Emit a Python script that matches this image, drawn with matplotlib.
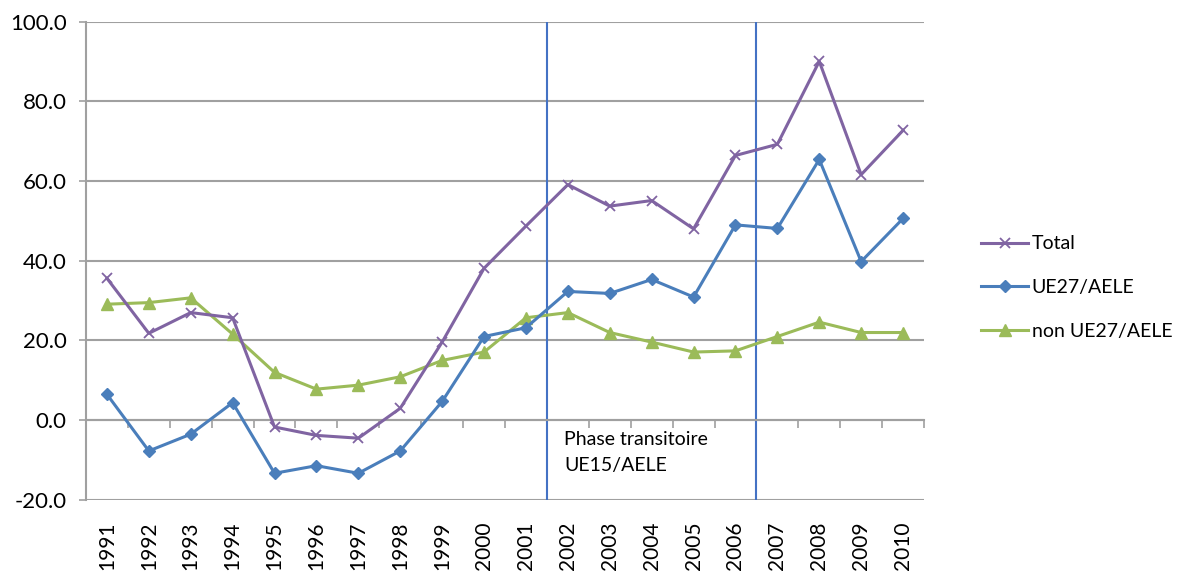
#!/usr/bin/env python3
# -*- coding: utf-8 -*-

"""
Trade balance by partner group, 1991-2010
"""

import matplotlib.pyplot as plt

plt.rcParams['font.family'] = ['Lato', 'DejaVu Sans']

years = [str(y) for y in range(1991, 2011)]

total = [35.6, 21.8, 27.0, 25.7, -1.7, -3.8, -4.5, 3.0, 19.6, 38.1,
         48.7, 59.1, 53.7, 55.1, 48.0, 66.4, 69.2, 90.0, 61.6, 72.7]
ue27 = [6.5, -7.7, -3.5, 4.4, -13.3, -11.4, -13.3, -7.7, 4.7, 21.0,
        23.2, 32.3, 31.8, 35.3, 30.9, 49.0, 48.1, 65.4, 39.8, 50.6]
non_ue27 = [29.1, 29.5, 30.7, 21.6, 12.0, 7.8, 8.8, 10.9, 15.0, 17.1,
            25.7, 27.0, 22.0, 19.6, 17.1, 17.4, 21.0, 24.6, 22.0, 22.0]

series_names = ['Total', 'UE27/AELE', 'non UE27/AELE']

# transition phase lies between these years
phase_start = '2001'
phase_end = '2006'
phase_label = 'Phase transitoire\nUE15/AELE'

y_ticks = [-20, 0, 20, 40, 60, 80, 100]

PURPLE = '#8064A2'
BLUE = '#4A7EBB'
GREEN = '#9BBB59'
GRID = '#a0a0a0'


def main():
    fig = plt.figure(figsize=(11.81, 5.72), dpi=100)
    ax = fig.add_axes([0.0728, 0.1259, 0.7096, 0.8365])

    x = list(range(len(years)))

    ax.plot(x, total, color=PURPLE, lw=2.2, marker='x', ms=7, mew=1.3,
            label=series_names[0], zorder=4)
    ax.plot(x, ue27, color=BLUE, lw=2.2, marker='D', ms=6,
            label=series_names[1], zorder=4)
    ax.plot(x, non_ue27, color=GREEN, lw=2.2, marker='^', ms=8,
            label=series_names[2], zorder=3)

    # phase boundaries
    i0 = years.index(phase_start) + 0.5
    i1 = years.index(phase_end) + 0.5
    for xv in (i0, i1):
        ax.axvline(xv, color='#4472C4', lw=1.5, zorder=2)
    ax.text(i0 + 0.42, -2.6, phase_label, fontsize=14, va='top', ha='left',
            linespacing=1.65)

    ax.set_xlim(-0.5, len(years) - 0.5)
    ax.set_ylim(-20, 100)
    ax.set_yticks(y_ticks)
    ax.set_yticklabels([f'{v:.1f}' for v in y_ticks], fontsize=16)
    ax.yaxis.grid(True, color=GRID, lw=1.5)
    ax.set_axisbelow(True)
    ax.tick_params(axis='y', length=5, width=1.2, color=GRID, pad=9)

    for side in ('top', 'right'):
        ax.spines[side].set_visible(False)
    ax.spines['left'].set_color(GRID)
    ax.spines['left'].set_linewidth(1.5)

    # category axis crosses at zero, ticks between categories
    ax.spines['bottom'].set_position(('data', 0))
    ax.spines['bottom'].set_color(GRID)
    ax.spines['bottom'].set_linewidth(1.5)
    ax.set_xticks([i - 0.5 for i in range(len(years) + 1)])
    ax.set_xticklabels([])
    ax.tick_params(axis='x', length=6, width=1.2, color=GRID, direction='out')

    # year labels at the bottom of the plot area
    sec = ax.secondary_xaxis(0)
    sec.set_xticks(x)
    sec.set_xticklabels(years, rotation=90, fontsize=15)
    sec.tick_params(length=0, pad=15.5)
    sec.spines['bottom'].set_visible(False)

    fig.legend(loc='center left', bbox_to_anchor=(0.816, 0.497),
               frameon=False, fontsize=14, handlelength=2.4,
               handletextpad=0.2, labelspacing=1.38)

    fig.savefig('out.png', dpi=100)
    plt.close('all')


if __name__ == '__main__':
    main()
